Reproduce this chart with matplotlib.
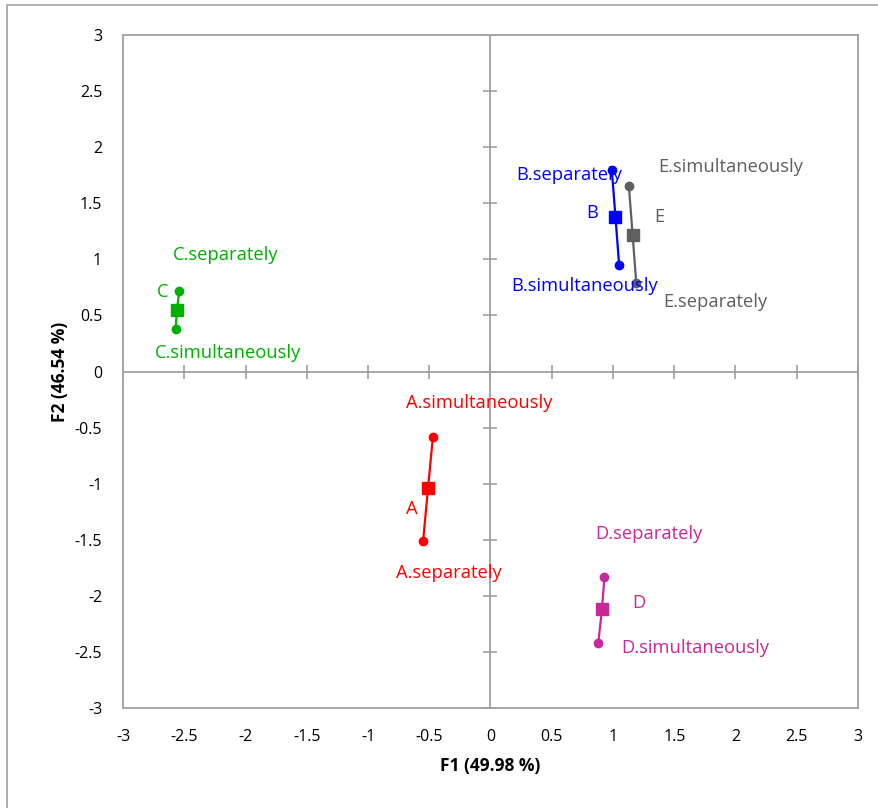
import numpy as np
import matplotlib
matplotlib.use("Agg")
import matplotlib.pyplot as plt
from matplotlib.patches import Rectangle

# centroid (square) and the two conditions (dots) per product
products = ["A", "B", "C", "D", "E"]
centre_x = [-0.51, 1.02, -2.56, 0.91, 1.16]
centre_y = [-1.04, 1.38, 0.55, -2.12, 1.22]
sep_x = [-0.55, 0.99, -2.54, 0.93, 1.19]
sep_y = [-1.51, 1.80, 0.72, -1.83, 0.79]
sim_x = [-0.47, 1.05, -2.57, 0.88, 1.13]
sim_y = [-0.58, 0.95, 0.38, -2.42, 1.65]
colours = ["#FF0000", "#0000FF", "#00B000", "#C8289B", "#5F5F5F"]

ticks = [-3, -2.5, -2, -1.5, -1, -0.5, 0, 0.5, 1, 1.5, 2, 2.5, 3]
tick_labels = ["-3", "-2.5", "-2", "-1.5", "-1", "-0.5", "0", "0.5", "1", "1.5", "2", "2.5", "3"]
xlabel = "F1 (49.98 %)"
ylabel = "F2 (46.54 %)"

# label placement (data coords): name, separately, simultaneously
label_pos = {
    "A": [(-0.64, -1.23), (-0.34, -1.80), (-0.09, -0.285)],
    "B": [(0.83, 1.41), (0.645, 1.756), (0.767, 0.766)],
    "C": [(-2.68, 0.713), (-2.163, 1.043), (-2.139, 0.169)],
    "D": [(1.208, -2.068), (1.29, -1.453), (1.673, -2.469)],
    "E": [(1.38, 1.373), (1.837, 0.624), (1.959, 1.827)],
}

plt.rcParams['font.family'] = ['Open Sans', 'DejaVu Sans']

fig = plt.figure(figsize=(8.79, 8.08), dpi=100)
ax = fig.add_axes([123 / 879, 1 - 708 / 808, 735 / 879, 673 / 808])

grey = "#A0A0A0"
ax.axhline(0, color=grey, lw=1.3, zorder=1)
ax.axvline(0, color=grey, lw=1.3, zorder=1)
ax.plot(ticks, np.zeros(len(ticks)), linestyle="none", marker="|", markersize=10,
        color=grey, markeredgewidth=1.2, zorder=1)
ax.plot(np.zeros(len(ticks)), ticks, linestyle="none", marker="_", markersize=10,
        color=grey, markeredgewidth=1.2, zorder=1)

for i, p in enumerate(products):
    c = colours[i]
    ax.plot([sep_x[i], centre_x[i], sim_x[i]], [sep_y[i], centre_y[i], sim_y[i]],
            color=c, lw=1.6, zorder=2)
    ax.plot([sep_x[i], sim_x[i]], [sep_y[i], sim_y[i]], "o", color=c, markersize=6, zorder=3)
    ax.plot(centre_x[i], centre_y[i], "s", color=c, markersize=8, zorder=3)
    names = [p, p + ".separately", p + ".simultaneously"]
    for name, (tx, ty) in zip(names, label_pos[p]):
        ax.text(tx, ty, name, color=c, fontsize=13.2, ha="center", va="center", zorder=4)

ax.set_xlim(-3, 3)
ax.set_ylim(-3, 3)
ax.set_xticks(ticks)
ax.set_yticks(ticks)
ax.set_xticklabels(tick_labels)
ax.set_yticklabels(tick_labels)
ax.tick_params(length=0, labelsize=11.5, colors="black")
ax.tick_params(axis="x", pad=15)
ax.tick_params(axis="y", pad=15)
for s in ax.spines.values():
    s.set_color(grey)
    s.set_linewidth(1.3)

ax.set_xlabel(xlabel, fontsize=12.5, fontweight="bold", labelpad=9)
ax.set_ylabel(ylabel, fontsize=12.5, fontweight="bold", labelpad=4)

# outer chart border
fig.patches.append(Rectangle((7 / 879, -0.05), 1, 1 - 5 / 808 + 0.05, transform=fig.transFigure,
                             fill=False, edgecolor="#A0A0A0", lw=1.2))

fig.savefig("out.png", dpi=100)
